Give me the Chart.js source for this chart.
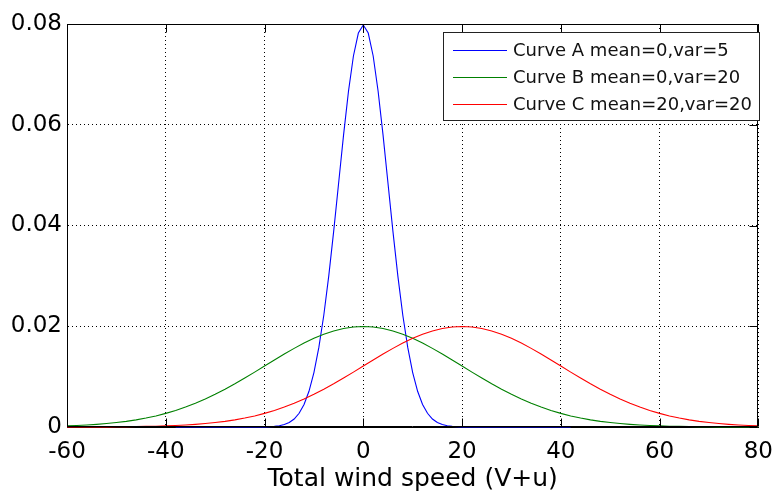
<!DOCTYPE html>
<html><head><meta charset="utf-8">
<script src="https://cdn.jsdelivr.net/npm/chart.js@4/dist/chart.umd.min.js"></script>
<style>html,body{margin:0;padding:0;background:#fff}#wrap{width:784px;height:491px}</style>
</head><body><div id="wrap"><canvas id="c" width="784" height="491"></canvas></div>
<script>
// ---- data ----
const seriesNames = ['Curve A mean=0,var=5', 'Curve B mean=0,var=20', 'Curve C mean=20,var=20'];
const xAxisTitle = 'Total wind speed (V+u)';
const xTicks = [-60, -40, -20, 0, 20, 40, 60, 80];
const yTicks = [0, 0.02, 0.04, 0.06, 0.08];

const xA = [-38,-37,-36,-35,-34,-33,-32,-31,-30,-29,-28,-27,-26,-25,-24,-23,-22,-21,
  -20,-19,-18,-17,-16,-15,-14,-13,-12,-11,-10,-9,-8,-7,-6,-5,-4,-3,-2,-1,0,
  1,2,3,4,5,6,7,8,9,10,11,12,13,14,15,16,17,18,19,20,
  21,22,23,24,25,26,27,28,29,30,31,32,33,34,35,36,37,38,39,40,41,42];
const curveA = [0,0,0,0,0,0,0,0,0,0,0,0,0,0,0,0,0,0,
  0.00003,0.00006,0.00012,0.00025,0.00048,0.00089,0.00158,0.00272,0.00448,0.00709,
  0.01080,0.01579,0.02218,0.02995,0.03884,0.04839,0.05794,0.06665,0.07365,0.07821,
  0.07979,
  0.07821,0.07365,0.06665,0.05794,0.04839,0.03884,0.02995,0.02218,0.01579,0.01080,
  0.00709,0.00448,0.00272,0.00158,0.00089,0.00048,0.00025,0.00012,0.00006,0.00003,
  0,0,0,0,0,0,0,0,0,0,0,0,0,0,0,0,0,0,0,0,0,0];

const xBC = [-60,-58,-56,-54,-52,-50,-48,-46,-44,-42,-40,-38,-36,-34,-32,-30,-28,-26,-24,-22,
  -20,-18,-16,-14,-12,-10,-8,-6,-4,-2,0,2,4,6,8,10,12,14,16,18,
  20,22,24,26,28,30,32,34,36,38,40,42,44,46,48,50,52,54,56,58,
  60,62,64,66,68,70,72,74,76,78,80];
const curveB = [0.00022,0.00030,0.00040,0.00052,0.00068,0.00088,0.00112,0.00142,0.00177,0.00220,
  0.00270,0.00328,0.00395,0.00470,0.00555,0.00648,0.00749,0.00857,0.00971,0.01089,
  0.01210,0.01330,0.01448,0.01561,0.01666,0.01760,0.01841,0.01907,0.01955,0.01985,
  0.01995,
  0.01985,0.01955,0.01907,0.01841,0.01760,0.01666,0.01561,0.01448,0.01330,0.01210,
  0.01089,0.00971,0.00857,0.00749,0.00648,0.00555,0.00470,0.00395,0.00328,0.00270,
  0.00220,0.00177,0.00142,0.00112,0.00088,0.00068,0.00052,0.00040,0.00030,0.00022,
  0.00016,0.00012,0.00009,0.00006,0.00004,0.00003,0.00002,0.00001,0.00001,0.00001];
const curveC = [0.00001,0.00001,0.00001,0.00002,0.00003,0.00004,0.00006,0.00009,0.00012,0.00016,
  0.00022,0.00030,0.00040,0.00052,0.00068,0.00088,0.00112,0.00142,0.00177,0.00220,
  0.00270,0.00328,0.00395,0.00470,0.00555,0.00648,0.00749,0.00857,0.00971,0.01089,
  0.01210,0.01330,0.01448,0.01561,0.01666,0.01760,0.01841,0.01907,0.01955,0.01985,
  0.01995,
  0.01985,0.01955,0.01907,0.01841,0.01760,0.01666,0.01561,0.01448,0.01330,0.01210,
  0.01089,0.00971,0.00857,0.00749,0.00648,0.00555,0.00470,0.00395,0.00328,0.00270,
  0.00220,0.00177,0.00142,0.00112,0.00088,0.00068,0.00052,0.00040,0.00030,0.00022];

const colors = ['#0000ff', '#008000', '#ff0000'];
const FONT = '"DejaVu Sans", Verdana, sans-serif';

const toPts = (xs, ys) => xs.map((x, i) => ({x: x, y: ys[i]}));

const boxPlugin = {
  id: 'matlabBox',
  afterDatasetsDraw(chart) {
    const ctx = chart.ctx, a = chart.chartArea;
    const xs = chart.scales.x, ys = chart.scales.y;
    ctx.save();
    ctx.strokeStyle = '#000';
    ctx.lineWidth = 1;
    const L = Math.round(a.left) + 0.5, R = Math.round(a.right) - 0.5;
    const T = Math.round(a.top) + 0.5, B = Math.round(a.bottom) - 0.5;
    ctx.beginPath();
    ctx.rect(L, T, R - L, B - T);
    // inward ticks
    const tl = 8;
    xTicks.forEach(v => {
      const p = Math.round(xs.getPixelForValue(v)) + 0.5;
      ctx.moveTo(p, B); ctx.lineTo(p, B - tl);
      ctx.moveTo(p, T); ctx.lineTo(p, T + tl);
    });
    yTicks.forEach(v => {
      const p = Math.round(ys.getPixelForValue(v)) + 0.5;
      ctx.moveTo(R, p); ctx.lineTo(R - tl, p);
    });
    ctx.stroke();

    // legend
    const lx = 443.5, ly = 32.5, lw = 316, lh = 88;
    ctx.fillStyle = '#fff';
    ctx.fillRect(lx, ly, lw, lh);
    ctx.strokeStyle = '#222';
    ctx.strokeRect(lx, ly, lw, lh);
    ctx.font = '18px ' + FONT;
    ctx.textBaseline = 'middle';
    ctx.textAlign = 'left';
    const rows = [50, 77, 104];
    seriesNames.forEach((name, i) => {
      ctx.strokeStyle = colors[i];
      ctx.beginPath();
      ctx.moveTo(453, rows[i] + 0.5);
      ctx.lineTo(507, rows[i] + 0.5);
      ctx.stroke();
      ctx.fillStyle = '#111';
      ctx.fillText(name, 513, rows[i] + 1);
    });
    ctx.restore();
  }
};

new Chart(document.getElementById('c'), {
  type: 'line',
  data: {
    datasets: [
      {label: seriesNames[2], data: toPts(xBC, curveC), borderColor: colors[2], order: 1},
      {label: seriesNames[1], data: toPts(xBC, curveB), borderColor: colors[1], order: 2},
      {label: seriesNames[0], data: toPts(xA, curveA), borderColor: colors[0], order: 3}
    ].map(d => Object.assign(d, {borderWidth: 1.1, pointRadius: 0, tension: 0, fill: false, clip: 3}))
  },
  options: {
    responsive: false,
    animation: false,
    layout: {padding: {left: 0, right: 16, top: 24, bottom: 0}},
    plugins: {legend: {display: false}, tooltip: {enabled: false}},
    scales: {
      x: {
        type: 'linear', min: -60, max: 80,
        afterBuildTicks: s => { s.ticks = xTicks.map(v => ({value: v})); },
        afterFit: s => { s.height = 64; },
        ticks: {color: '#000', font: {family: FONT, size: 23}, padding: 11,
                maxRotation: 0, autoSkip: false, callback: v => String(v)},
        grid: {color: '#000', lineWidth: 1, drawTicks: false},
        border: {display: true, color: '#000', dash: [1, 3]},
        title: {display: true, text: xAxisTitle, color: '#000',
                font: {family: FONT, size: 25}, padding: {top: 0, bottom: -3}}
      },
      y: {
        type: 'linear', min: 0, max: 0.08,
        afterBuildTicks: s => { s.ticks = yTicks.map(v => ({value: v})); },
        afterFit: s => { s.width = 67; },
        ticks: {color: '#000', font: {family: FONT, size: 23}, padding: 5,
                callback: v => v === 0 ? '0' : v.toFixed(2)},
        grid: {color: '#000', lineWidth: 1, drawTicks: false},
        border: {display: true, color: '#000', dash: [1, 3]}
      }
    }
  },
  plugins: [boxPlugin]
});
</script>
</body></html>
